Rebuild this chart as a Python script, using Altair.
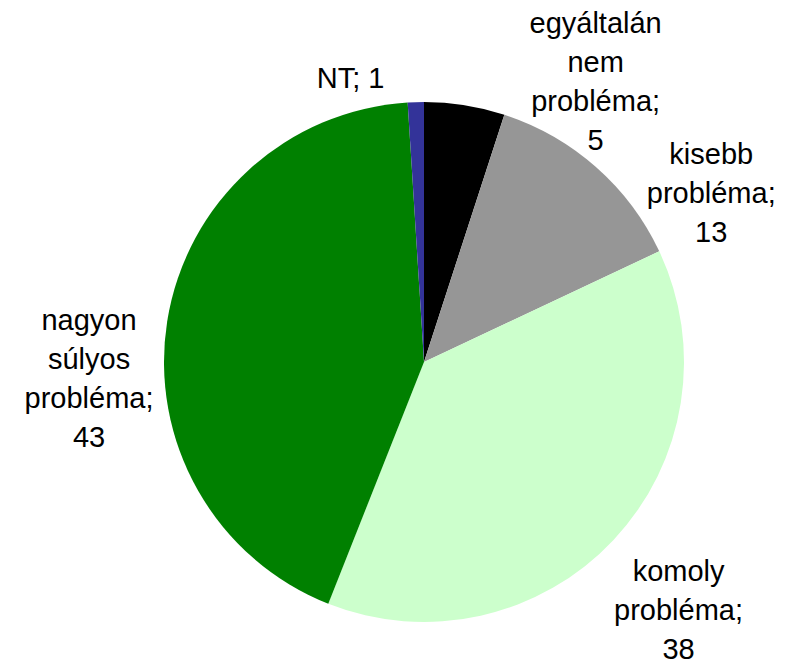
import math
import altair as alt
import pandas as pd

categories = ["egyáltalán nem probléma", "kisebb probléma", "komoly probléma",
              "nagyon súlyos probléma", "NT"]
values = [5, 13, 38, 43, 1]
label_lines = [
    ["egyáltalán", "nem", "probléma;", "5"],
    ["kisebb", "probléma;", "13"],
    ["komoly", "probléma;", "38"],
    ["nagyon", "súlyos", "probléma;", "43"],
    ["NT; 1"],
]
colors = ["#000000", "#969696", "#CCFFCC", "#008000", "#333399"]

df = pd.DataFrame({
    "category": categories,
    "value": values,
    "order": list(range(len(categories))),
    "label": ["\n".join(l) for l in label_lines],
})

CX, CY = 416, 354
theta_scale = alt.Scale(domain=[0, 100], range=[0, 2 * math.pi])

base = alt.Chart(df).transform_window(
    cum="sum(value)", sort=[alt.SortField("order")]
).transform_calculate(
    start="datum.cum - datum.value",
    mid="datum.cum - datum.value / 2",
)

arcs = base.mark_arc(outerRadius=260).encode(
    theta=alt.Theta("start:Q", scale=theta_scale),
    theta2="cum:Q",
    color=alt.Color("category:N", scale=alt.Scale(domain=categories, range=colors), legend=None),
    x=alt.value(CX),
    y=alt.value(CY),
)

offsets = [(120, -12), (69, 41), (14, -16), (-9, 11), (-63, 47)]

layers = [arcs]
for cat, (ddx, ddy) in zip(categories, offsets):
    t = base.transform_filter(alt.datum.category == cat).mark_text(
        radius=330, fontSize=29, font="Liberation Sans", lineBreak="\n",
        lineHeight=39, align="center", baseline="middle", color="#000000",
        dx=ddx, dy=ddy,
    ).encode(
        theta=alt.Theta("mid:Q", scale=theta_scale),
        text=alt.Text("label:N"),
        x=alt.value(CX),
        y=alt.value(CY),
    )
    layers.append(t)

chart = alt.layer(*layers).properties(
    width=770, height=656, padding=0, background="white",
    autosize=alt.AutoSizeParams(type="none"),
).configure_view(stroke=None)

chart.save("out.html", embed_options={"renderer": "svg", "actions": False})
